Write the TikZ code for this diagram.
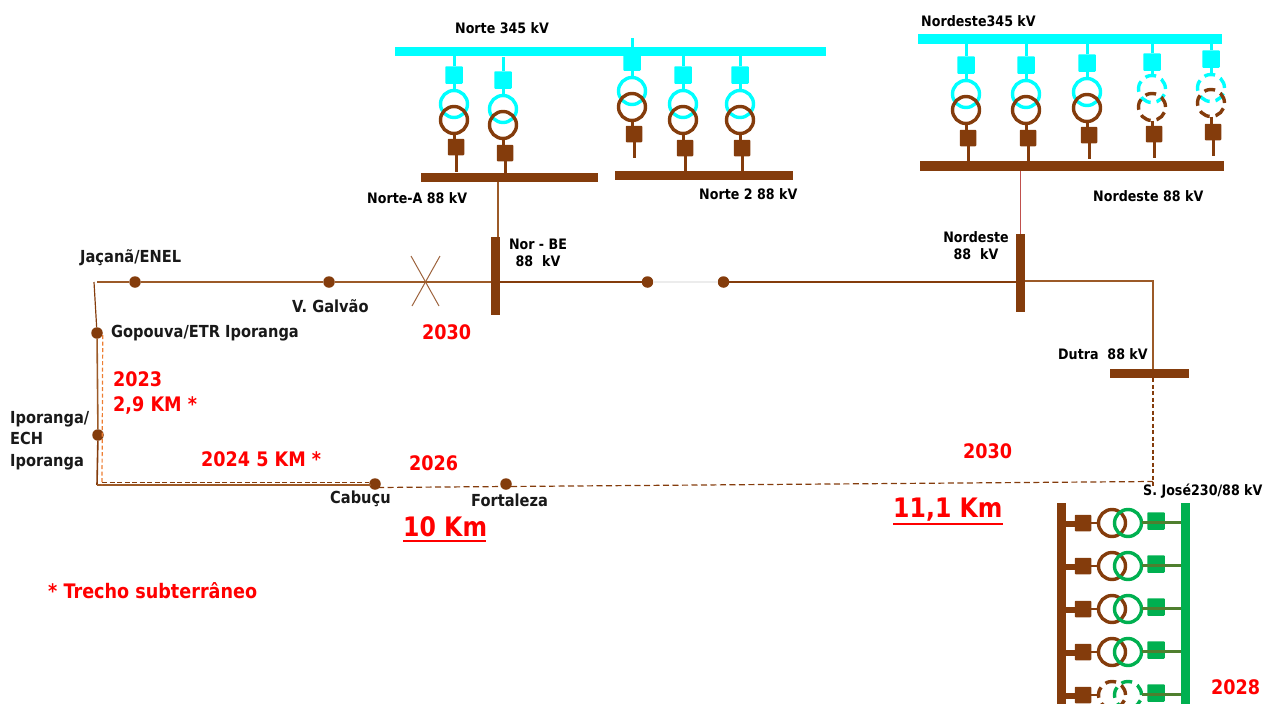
\documentclass[tikz,border=0pt]{standalone}
\usepackage{fontspec}
\setmainfont[FakeStretch=0.88,BoldFont={DejaVu Sans Bold}]{DejaVu Sans}
\definecolor{brn}{HTML}{843C0C}
\definecolor{cya}{HTML}{00FFFF}
\definecolor{grn}{HTML}{00B050}
\definecolor{lin}{HTML}{9C5A28}
\definecolor{org}{HTML}{ED7D31}
\definecolor{rdl}{HTML}{C0504D}
\definecolor{olv}{HTML}{4F7F2F}
\tikzset{
 x=1pt,y=-1pt,
 busbar/.style={fill=#1,draw=none,inner sep=0,outer sep=0},
 brk/.style={fill=#1,draw=none,rounded corners=.8,inner sep=0,outer sep=0,minimum size=17.5},
 wind/.style={draw=#1,circle,line width=3.4,inner sep=0,outer sep=0,minimum size=27},
 dwind/.style={wind=#1,dash pattern=on 11 off 6},
 dot/.style={circle,fill=brn,inner sep=0,outer sep=0,minimum size=11.5},
 lbl/.style={font=\bfseries\fontsize{14.4}{17}\selectfont,text=black,inner sep=0},
 sub/.style={font=\bfseries\fontsize{16.6}{21.5}\selectfont,text=black!90,inner sep=0},
 rdt/.style={font=\bfseries\fontsize{20}{25}\selectfont,text=red,inner sep=0},
 rdb/.style={font=\bfseries\fontsize{26.8}{30}\selectfont,text=red,inner sep=0},
 bayl/.style={line width=3},
 wire/.style={draw=lin,line width=1.3},
}
% name, x, ytop, ybrk, yhv, ylv, ybrk2, yend, winding style
\newcommand{\vbay}[9]{%
 \coordinate (#1t) at (#2,#3);
 \coordinate (#1e) at (#2+2,#8);
 \node[brk=cya] (#1a) at (#2,#4) {};
 \node[brk=brn,minimum size=16.5] (#1b) at (#2+2,#7) {};
 \node[#9=cya] (#1h) at (#2,#5) {};
 \node[#9=brn] (#1l) at (#2,#6) {};
 \draw[cya,bayl] (#1t) -- (#1a);
 \draw[cya,bayl] (#1a) -- (#1h.north);
 \draw[brn,bayl] (#1l.south) -- (#1b.north -| #1l.south);
 \draw[brn,bayl] (#1b) -- (#1e);
}
\newcommand{\hbay}[3]{%
 \coordinate (#1s) at (1066,#2+1);
 \coordinate (#1g) at (1181,#2-1);
 \node[brk=brn,minimum size=16.5] (#1b) at (1083,#2) {};
 \node[brk=grn] (#1a) at (1156,#2-2) {};
 \node[#3=brn] (#1l) at (1112,#2) {};
 \node[#3=grn] (#1h) at (1128,#2) {};
 \draw[brn,line width=6] (#1s) -- (#1b.west |- #1s);
 \draw[brn,line width=1.5] (#1b) -- (#1l.west);
 \draw[olv,line width=3] (#1h.east |- #1g) -- (#1g);
}
\begin{document}
\begin{tikzpicture}
\useasboundingbox (0,0) rectangle (1269,704);
\clip (0,0) rectangle (1269,704);
% buses
\node[busbar=cya,minimum width=431,minimum height=9] (n345) at (610,51) {};
\node[busbar=brn,minimum width=177,minimum height=9] (na88) at (509.5,177.5) {};
\node[busbar=brn,minimum width=178,minimum height=9] (n288) at (704,175.5) {};
\node[busbar=cya,minimum width=304,minimum height=10] (nd345) at (1070,39) {};
\node[busbar=brn,minimum width=304,minimum height=10] (nd88) at (1072,166) {};
\node[busbar=brn,minimum width=9,minimum height=78] (nbe) at (495.5,276) {};
\node[busbar=brn,minimum width=9,minimum height=78] (nd88v) at (1020.5,273) {};
\node[busbar=brn,minimum width=79,minimum height=9] (dut) at (1149.5,373.5) {};
\node[busbar=brn,minimum width=9,minimum height=210] (sj88) at (1061.5,608) {};
\node[busbar=grn,minimum width=9,minimum height=210] (sj230) at (1185.5,608) {};
% Norte bays
\vbay{a}{454}{55}{75}{104}{120}{147}{172}{wind}
\vbay{b}{503}{57}{80}{109}{125}{153}{173}{wind}
\vbay{c}{632}{38}{62}{91}{107}{134}{158}{wind}
\vbay{d}{683}{55}{75}{104}{120}{148}{171}{wind}
\vbay{e}{740}{55}{75}{104}{120}{148}{171}{wind}
% Nordeste bays
\vbay{f}{966}{44}{65}{94}{110}{138}{161}{wind}
\vbay{g}{1026}{44}{65}{94}{110}{138}{161}{wind}
\vbay{h}{1087}{44}{63}{92}{108}{135}{159}{wind}
\vbay{i}{1152}{44}{62}{89}{107}{134}{158}{dwind}
\vbay{j}{1211}{44}{59}{88}{103}{132}{156}{dwind}
% S. Jose bays
\hbay{p}{523}{wind}
\hbay{q}{566}{wind}
\hbay{r}{609}{wind}
\hbay{s}{652}{wind}
\hbay{u}{695}{dwind}
% stations
\coordinate (tl) at (94,282);
\coordinate (tl2) at (97,282);
\coordinate (bl) at (97,485);
\coordinate (bl2) at (102,482.5);
\coordinate (cb2) at (378,487.5);
\coordinate (sjc) at (1153,481.5);
\coordinate (sjt) at (1153,281);
\coordinate (sjb) at (1153,488);
\coordinate (xa) at (411,256);
\coordinate (xb) at (439,306);
\coordinate (xc) at (440,256);
\coordinate (xd) at (412,306);
\coordinate (nbl) at (498,182);
% connectors
\draw[brn!80!white,line width=1] (xa) -- (xb);
\draw[brn!80!white,line width=1] (xc) -- (xd);
\draw[brn,line width=1.2,dash pattern=on 6 off 3.5] (cb2) -- (sjc);
\node[dot] (jac) at (135,282) {};
\node[dot] (gal) at (329,282) {};
\node[dot] (w1) at (647.5,282) {};
\node[dot] (w2) at (723.5,282) {};
\node[dot] (gop) at (97,333) {};
\node[dot] (ipo) at (98,435) {};
\node[dot] (cab) at (375,484) {};
\node[dot] (frt) at (506,484) {};
\draw[brn,line width=1.2] (tl) -- (gop);
\draw[lin,line width=1.6] (gop) -- (ipo);
\draw[brn,line width=1.6] (ipo) -- (bl);
\draw[wire] (tl2) -- (jac);
\draw[wire] (jac) -- (gal);
\draw[wire] (gal) -- (nbe.west |- gal);
\draw[brn,line width=1.3] (nbe.east |- w1) -- (w1);
\draw[gray!15,line width=1.5] (w1) -- (w2);
\draw[brn,line width=1.3] (w2) -- (nd88v.west |- w2);
\draw[wire] (nd88v.east |- sjt) -- (sjt) -- (dut.north -| sjt);
\draw[brn,line width=1.2,dash pattern=on 4 off 2.5] (dut.south -| sjt) -- (sjb);
\draw[lin,line width=1.3] (bl) -- (cab.south west |- bl);
\draw[brn,line width=1,dash pattern=on 5 off 2.5] (bl2) -- (cab.west |- bl2);
\draw[org,line width=1.2,dash pattern=on 4 off 2.5] (gop.east) ++(0,2) -- (102,485);
\draw[lin,line width=1.2] (nbl) -- (nbl |- nbe.north);
\draw[rdl,line width=1.2] (nd88.south -| nd88v) -- (nd88v);
% labels
\node[lbl] (l1) at (502,28) {Norte 345 kV};
\node[lbl,anchor=west] (l2) at (921,21) {Nordeste345 kV};
\node[lbl,anchor=west] (l3) at (367,198) {Norte-A 88 kV};
\node[lbl,anchor=west] (l4) at (699,194) {Norte 2 88 kV};
\node[lbl,anchor=west] (l5) at (1093,196) {Nordeste 88 kV};
\node[lbl,align=center] (l6) at (538,253) {Nor - BE\\88~~kV};
\node[lbl,align=center] (l7) at (976,246) {Nordeste\\88~~kV};
\node[lbl,anchor=west] (l8) at (1058,354) {Dutra~~88 kV};
\node[lbl,anchor=west] (l9) at (1143,491) {S. José230/88 kV};
\node[sub,anchor=west] (m1) at (80,258) {Jaçanã/ENEL};
\node[sub,anchor=west] (m2) at (292,306) {V. Galvão};
\node[sub,anchor=west] (m3) at (111,333) {Gopouva/ETR Iporanga};
\node[sub,anchor=north west,align=left] (m4) at (10,411) {Iporanga/\\ECH\\Iporanga};
\node[sub,anchor=west] (m5) at (330,499) {Cabuçu};
\node[sub,anchor=west] (m6) at (471,500) {Fortaleza};
\node[rdt,anchor=north west,align=left] (r1) at (113,371) {2023\\2,9 KM *};
\node[rdt,anchor=west] (r2) at (201,459) {2024 5 KM *};
\node[rdt,anchor=west] (r3) at (409,463) {2026};
\node[rdt,anchor=west] (r4) at (422,332) {2030};
\node[rdt,anchor=west] (r5) at (963,451) {2030};
\node[rdt,anchor=west] (r6) at (1211,687) {2028};
\node[rdt,anchor=west] (r7) at (48,591) {* Trecho subterrâneo};
\node[rdb,anchor=west] (k1) at (403,527) {10 Km};
\node[rdb,anchor=west] (k2) at (893,510) {11,1 Km};
\draw[red,line width=2] (k1.west |- 0,541) -- (486,541);
\draw[red,line width=2] (k2.west |- 0,524) -- (1003,524);
\end{tikzpicture}
\end{document}
